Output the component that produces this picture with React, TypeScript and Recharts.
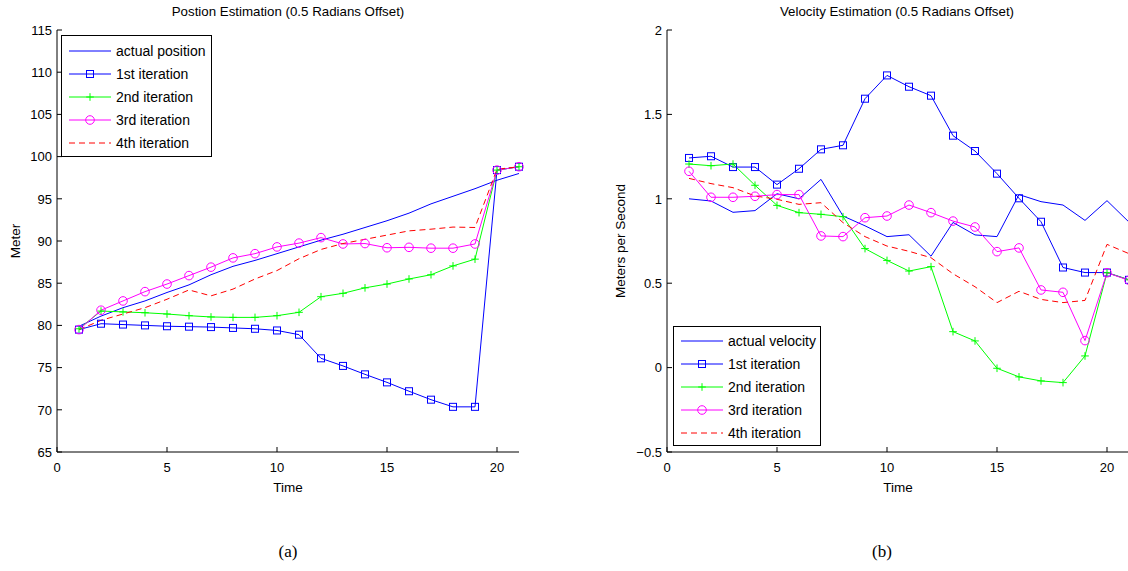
import React from 'react';
import { LineChart, Line, XAxis, YAxis, Legend, Label } from 'recharts';

const time = [1, 2, 3, 4, 5, 6, 7, 8, 9, 10, 11, 12, 13, 14, 15, 16, 17, 18, 19, 20, 21];
const timeTicks = [0, 5, 10, 15, 20];

// position panel (a)
const actualPosition = [79.9, 81.1, 82.1, 82.9, 83.9, 84.8, 86.0, 87.0, 87.7, 88.5, 89.3, 90.1, 90.8, 91.6, 92.4, 93.3, 94.4, 95.3, 96.2, 97.2, 98.0];
const pos1st = [79.5, 80.2, 80.1, 80.0, 79.9, 79.85, 79.8, 79.7, 79.6, 79.4, 78.9, 76.1, 75.2, 74.2, 73.25, 72.2, 71.2, 70.35, 70.35, 98.4, 98.8];
const pos2nd = [79.6, 81.7, 81.6, 81.5, 81.35, 81.15, 81.0, 80.95, 80.95, 81.15, 81.55, 83.4, 83.8, 84.45, 84.9, 85.5, 86.0, 87.05, 87.85, 98.4, 98.8];
const pos3rd = [79.5, 81.8, 82.9, 84.0, 84.9, 85.9, 86.9, 88.0, 88.5, 89.3, 89.75, 90.4, 89.65, 89.7, 89.2, 89.25, 89.15, 89.15, 89.65, 98.4, 98.8];
const pos4th = [79.5, 80.6, 81.35, 82.1, 83.1, 84.2, 83.5, 84.3, 85.5, 86.5, 87.9, 89.0, 89.7, 90.2, 90.7, 91.2, 91.4, 91.65, 91.6, 98.5, 98.8];
const positionTicks = [65, 70, 75, 80, 85, 90, 95, 100, 105, 110, 115];

// velocity panel (b)
const actualVelocity = [1.0, 0.987, 0.92, 0.93, 1.03, 1.0, 1.115, 0.898, 0.84, 0.776, 0.787, 0.66, 0.86, 0.786, 0.776, 1.025, 0.983, 0.963, 0.872, 0.989, 0.862];
const vel1st = [1.242, 1.252, 1.188, 1.188, 1.084, 1.178, 1.293, 1.317, 1.593, 1.731, 1.664, 1.611, 1.374, 1.283, 1.149, 1.003, 0.864, 0.593, 0.563, 0.563, 0.52];
const vel2nd = [1.206, 1.196, 1.206, 1.08, 0.961, 0.918, 0.908, 0.894, 0.705, 0.635, 0.572, 0.598, 0.213, 0.158, -0.004, -0.055, -0.079, -0.089, 0.069, 0.562, 0.52];
const vel3rd = [1.163, 1.009, 1.009, 1.015, 1.025, 1.025, 0.78, 0.776, 0.888, 0.898, 0.963, 0.918, 0.868, 0.833, 0.687, 0.709, 0.46, 0.446, 0.16, 0.562, 0.517];
const vel4th = [1.121, 1.09, 1.066, 1.017, 0.997, 0.967, 0.977, 0.859, 0.776, 0.72, 0.689, 0.651, 0.556, 0.479, 0.385, 0.452, 0.404, 0.385, 0.398, 0.73, 0.675];
const velocityTicks = [-0.5, 0, 0.5, 1, 1.5, 2];

const positionRows = time.map((t, i) => ({
  t,
  actual: actualPosition[i],
  it1: pos1st[i],
  it2: pos2nd[i],
  it3: pos3rd[i],
  it4: pos4th[i],
}));

const velocityRows = time.map((t, i) => ({
  t,
  actual: actualVelocity[i],
  it1: vel1st[i],
  it2: vel2nd[i],
  it3: vel3rd[i],
  it4: vel4th[i],
}));

const FONT = '"Liberation Sans", Arial, Helvetica, sans-serif';
const BLUE = '#0000ff';
const GREEN = '#00ff00';
const MAGENTA = '#ff00ff';
const RED = '#ff0000';

type Marker = 'none' | 'square' | 'plus' | 'circle';

const series: { key: string; color: string; marker: Marker; dash?: string }[] = [
  { key: 'actual', color: BLUE, marker: 'none' },
  { key: 'it1', color: BLUE, marker: 'square' },
  { key: 'it2', color: GREEN, marker: 'plus' },
  { key: 'it3', color: MAGENTA, marker: 'circle' },
  { key: 'it4', color: RED, marker: 'none', dash: '6 4' },
];

const drawMarker = (marker: Marker, color: string, cx: number, cy: number, key?: string) => {
  if (marker === 'square') {
    return <rect key={key} x={cx - 3.5} y={cy - 3.5} width={7} height={7} fill="none" stroke={color} strokeWidth={1} />;
  }
  if (marker === 'circle') {
    return <circle key={key} cx={cx} cy={cy} r={4.3} fill="none" stroke={color} strokeWidth={1} />;
  }
  if (marker === 'plus') {
    return (
      <g key={key}>
        <line x1={cx - 3.8} y1={cy} x2={cx + 3.8} y2={cy} stroke={color} strokeWidth={1} />
        <line x1={cx} y1={cy - 3.8} x2={cx} y2={cy + 3.8} stroke={color} strokeWidth={1} />
      </g>
    );
  }
  return <g key={key} />;
};

const dotFor = (marker: Marker, color: string) => {
  if (marker === 'none') return false;
  return (p: any) => {
    const k = `${marker}-${p.index}`;
    if (p.cx == null || p.cy == null) return <g key={k} />;
    return drawMarker(marker, color, p.cx, p.cy, k);
  };
};

// chart geometry
const CW = 560;
const CH = 571;
const PL = 57;
const PT = 30;
const PW = 462;
const PH = 422;
const YW = 40;
const XH = 30;
const margin = { top: PT, left: PL - YW, right: CW - PL - PW, bottom: CH - PT - PH - XH };

const BottomTick = (p: any) => (
  <g>
    <line x1={p.x} y1={p.y} x2={p.x} y2={p.y - 5} stroke="#000" />
    <text x={p.x} y={p.y + 20} textAnchor="middle" fontSize={13} fontFamily={FONT} fill="#000">
      {p.payload.value}
    </text>
  </g>
);

const TopTick = (p: any) => <line x1={p.x} y1={p.y} x2={p.x} y2={p.y + 5} stroke="#000" />;

const RightTick = (p: any) => <line x1={p.x} y1={p.y} x2={p.x - 5} y2={p.y} stroke="#000" />;

const fmt = (v: number) => (v < 0 ? '\u2212' + Math.abs(v) : String(v));

const LeftTick = (p: any) => (
  <g>
    <line x1={p.x} y1={p.y} x2={p.x + 5} y2={p.y} stroke="#000" />
    <text x={p.x - 5} y={p.y + 4.7} textAnchor="end" fontSize={13} fontFamily={FONT} fill="#000">
      {fmt(p.payload.value)}
    </text>
  </g>
);

const legendBox = (names: string[], w: number, h: number, rowStart: number) => () => (
  <svg width={w} height={h} style={{ display: 'block' }}>
    <rect x={0.5} y={0.5} width={w - 1} height={h - 1} fill="#fff" stroke="#000" strokeWidth={1} />
    {series.map((s, i) => {
      const y = rowStart + i * 23;
      return (
        <g key={s.key}>
          <line x1={8} y1={y} x2={50} y2={y} stroke={s.color} strokeWidth={1} strokeDasharray={s.dash} />
          {drawMarker(s.marker, s.color, 29, y)}
          <text x={55} y={y + 5} fontSize={14} fontFamily={FONT} fill="#000">
            {names[i]}
          </text>
        </g>
      );
    })}
  </svg>
);

type PanelProps = {
  left: number;
  rows: any[];
  yDomain: [number, number];
  yTicks: number[];
  yLabel: string;
  yLabelX: number;
  names: string[];
  legendPos: { left: number; top: number; width: number; height: number; rowStart: number };
};

const Panel = ({ left, rows, yDomain, yTicks, yLabel, yLabelX, names, legendPos }: PanelProps) => (
  <div style={{ position: 'absolute', left, top: 0 }}>
    <LineChart width={CW} height={CH} data={rows} margin={margin}>
      <XAxis
        xAxisId="b"
        dataKey="t"
        type="number"
        domain={[0, 21]}
        ticks={timeTicks}
        interval={0}
        height={XH}
        tickSize={0}
        tickMargin={0}
        tickLine={false}
        tick={<BottomTick />}
        axisLine={{ stroke: '#000' }}
      >
        <Label
          content={() => (
            <text x={PL + PW / 2} y={PT + PH + 40} textAnchor="middle" fontSize={13.5} fontFamily={FONT} fill="#000">
              Time
            </text>
          )}
        />
      </XAxis>
      <XAxis
        xAxisId="t"
        orientation="top"
        dataKey="t"
        type="number"
        domain={[0, 21]}
        ticks={timeTicks}
        interval={0}
        height={0}
        tickSize={0}
        tickMargin={0}
        tickLine={false}
        tick={<TopTick />}
        axisLine={{ stroke: '#000' }}
      />
      <YAxis
        yAxisId="l"
        type="number"
        domain={yDomain}
        ticks={yTicks}
        interval={0}
        width={YW}
        tickSize={0}
        tickMargin={0}
        tickLine={false}
        tick={<LeftTick />}
        axisLine={{ stroke: '#000' }}
      >
        <Label
          content={() => (
            <text
              x={yLabelX}
              y={PT + PH / 2}
              transform={`rotate(-90 ${yLabelX} ${PT + PH / 2})`}
              textAnchor="middle"
              dy={4.7}
              fontSize={13.5}
              fontFamily={FONT}
              fill="#000"
            >
              {yLabel}
            </text>
          )}
        />
      </YAxis>
      <YAxis
        yAxisId="r"
        orientation="right"
        type="number"
        domain={yDomain}
        ticks={yTicks}
        interval={0}
        width={0}
        tickSize={0}
        tickMargin={0}
        tickLine={false}
        tick={<RightTick />}
        axisLine={{ stroke: '#000' }}
      />
      <Legend
        layout="horizontal"
        verticalAlign="middle"
        align="center"
        content={legendBox(names, legendPos.width, legendPos.height, legendPos.rowStart)}
        wrapperStyle={{ left: legendPos.left, top: legendPos.top, width: legendPos.width, height: legendPos.height }}
      />
      {series.map((s, i) => (
        <Line
          key={s.key}
          xAxisId="b"
          yAxisId="l"
          dataKey={s.key}
          name={names[i]}
          type="linear"
          stroke={s.color}
          strokeWidth={1}
          strokeDasharray={s.dash}
          dot={dotFor(s.marker, s.color)}
          activeDot={false}
          isAnimationActive={false}
        />
      ))}
    </LineChart>
  </div>
);

const titleStyle = (cx: number): React.CSSProperties => ({
  position: 'absolute',
  left: cx - 200,
  top: 4,
  width: 400,
  textAlign: 'center',
  fontFamily: FONT,
  fontSize: 13.3,
  lineHeight: '16px',
  color: '#000',
});

const captionStyle = (cx: number): React.CSSProperties => ({
  position: 'absolute',
  left: cx - 50,
  top: 542,
  width: 100,
  textAlign: 'center',
  fontFamily: '"Liberation Serif", "Times New Roman", serif',
  fontSize: 17,
  lineHeight: '20px',
  color: '#000',
});

export default function App() {
  return (
    <div
      style={{
        position: 'absolute',
        left: 0,
        top: 0,
        width: 1128,
        height: 571,
        overflow: 'hidden',
        background: '#fff',
      }}
    >
      <Panel
        left={0}
        rows={positionRows}
        yDomain={[65, 115]}
        yTicks={positionTicks}
        yLabel="Meter"
        yLabelX={15}
        names={['actual position', '1st iteration', '2nd iteration', '3rd iteration', '4th iteration']}
        legendPos={{ left: 61, top: 35, width: 151, height: 122, rowStart: 16 }}
      />
      <Panel
        left={610}
        rows={velocityRows}
        yDomain={[-0.5, 2]}
        yTicks={velocityTicks}
        yLabel="Meters per Second"
        yLabelX={10}
        names={['actual velocity', '1st iteration', '2nd iteration', '3rd iteration', '4th iteration']}
        legendPos={{ left: 63, top: 326, width: 148, height: 120, rowStart: 15 }}
      />
      <div style={titleStyle(288)}>Postion Estimation (0.5 Radians Offset)</div>
      <div style={titleStyle(897)}>Velocity Estimation (0.5 Radians Offset)</div>
      <div style={captionStyle(288)}>(a)</div>
      <div style={captionStyle(882)}>(b)</div>
    </div>
  );
}
